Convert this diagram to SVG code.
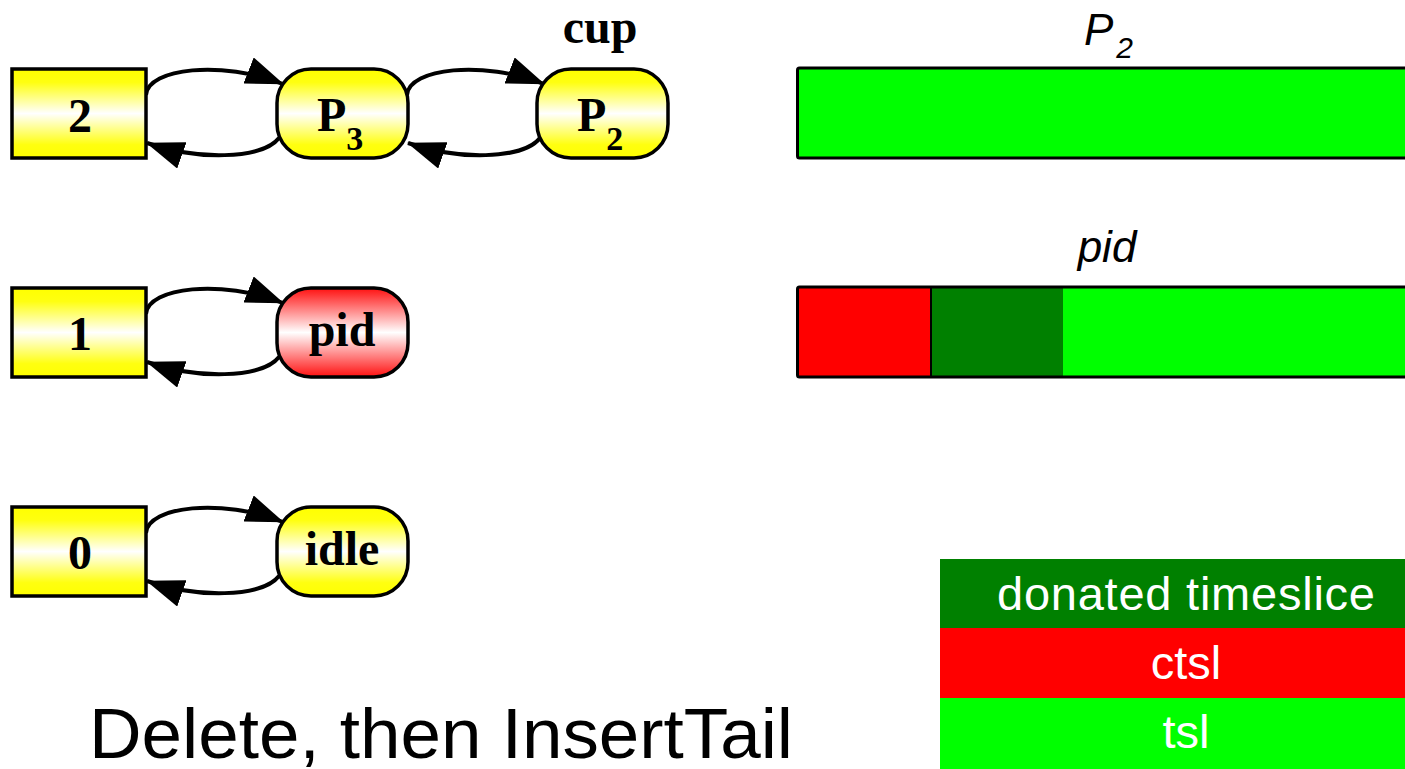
<svg xmlns="http://www.w3.org/2000/svg" width="1405" height="769" viewBox="0 0 1405 769">
  <defs>
    <linearGradient id="gYellow" x1="0" y1="0" x2="0" y2="1">
      <stop offset="0" stop-color="#FFFF00"/>
      <stop offset="0.15" stop-color="#FFFF10"/>
      <stop offset="0.5" stop-color="#FFFFFF"/>
      <stop offset="0.85" stop-color="#FFFF10"/>
      <stop offset="1" stop-color="#FFFF00"/>
    </linearGradient>
    <linearGradient id="gRed" x1="0" y1="0" x2="0" y2="1">
      <stop offset="0" stop-color="#FF1010"/>
      <stop offset="0.5" stop-color="#FFFFFF"/>
      <stop offset="1" stop-color="#FF1010"/>
    </linearGradient>
    <marker id="ah" viewBox="0 0 38 28" markerWidth="38" markerHeight="28" refX="37" refY="14" orient="auto" markerUnits="userSpaceOnUse">
      <path d="M0,0 L38,14 L0,28 Z" fill="#000"/>
    </marker>
    <style>
      .prio { fill: url(#gYellow); stroke: #000; stroke-width: 3.5; }
      .proc { fill: url(#gYellow); stroke: #000; stroke-width: 3.5; }
      .proc.red { fill: url(#gRed); }
      .lbl { font-family: "Liberation Serif", "Times New Roman", serif; font-weight: bold; font-size: 48px; fill: #000; }
      .sub { font-size: 34px; }
      .link { fill: none; stroke: #000; stroke-width: 4; marker-end: url(#ah); }
      .bar { stroke: #000; stroke-width: 3; }
      .cap { font-family: "Liberation Sans", Arial, sans-serif; font-style: italic; font-size: 44px; fill: #000; }
      .leg { font-family: "Liberation Sans", Arial, sans-serif; font-size: 47px; fill: #FFF; text-anchor: middle; }
      .title { font-family: "Liberation Sans", Arial, sans-serif; font-size: 70px; fill: #000; }
    </style>
  </defs>

  <!-- connectors between list heads and processes -->
  <g id="connectors">
    <path class="link" d="M146,95 C148,68 222,60 283,84"/>
    <path class="link" d="M279,138 C262,160 195,160 147,143"/>
    <path class="link" d="M407,95 C409,68 483,60 544,84"/>
    <path class="link" d="M540,138 C523,160 456,160 408,143"/>

    <path class="link" d="M146,314 C148,287 222,279 283,303"/>
    <path class="link" d="M279,357 C262,379 195,379 147,362"/>

    <path class="link" d="M146,533 C148,506 222,498 283,522"/>
    <path class="link" d="M279,576 C262,598 195,598 147,581"/>
  </g>

  <!-- priority 2 list -->
  <g id="prio2">
    <rect class="prio" x="12" y="69" width="134" height="89"/>
    <text class="lbl" x="80" y="132" text-anchor="middle">2</text>
  </g>
  <g id="procP3">
    <rect class="proc" x="277" y="69" width="131" height="89" rx="34"/>
    <text class="lbl" x="317" y="131">P<tspan class="sub" dy="19">3</tspan></text>
  </g>
  <g id="procP2">
    <rect class="proc" x="537" y="69" width="131" height="89" rx="34"/>
    <text class="lbl" x="577" y="131">P<tspan class="sub" dy="19">2</tspan></text>
    <text class="lbl" x="600" y="43" text-anchor="middle">cup</text>
  </g>

  <!-- priority 1 list -->
  <g id="prio1">
    <rect class="prio" x="12" y="288" width="134" height="89"/>
    <text class="lbl" x="80" y="350" text-anchor="middle">1</text>
  </g>
  <g id="procPid">
    <rect class="proc red" x="277" y="288" width="131" height="89" rx="34"/>
    <text class="lbl" x="342" y="346" text-anchor="middle">pid</text>
  </g>

  <!-- priority 0 list -->
  <g id="prio0">
    <rect class="prio" x="12" y="507" width="134" height="89"/>
    <text class="lbl" x="80" y="569" text-anchor="middle">0</text>
  </g>
  <g id="procIdle">
    <rect class="proc" x="277" y="507" width="131" height="89" rx="34"/>
    <text class="lbl" x="342" y="565" text-anchor="middle">idle</text>
  </g>

  <!-- timeslice bars -->
  <g id="barP2">
    <text class="cap" x="1084" y="45">P<tspan font-size="30px" dx="3" dy="13">2</tspan></text>
    <rect class="bar" x="797.5" y="68" width="700" height="90" rx="2" fill="#00FF00"/>
  </g>
  <g id="barPid">
    <text class="cap" x="1107" y="262" text-anchor="middle" font-size="50px">pid</text>
    <rect x="797.5" y="287" width="700" height="90" rx="2" fill="#00FF00"/>
    <rect x="797.5" y="287" width="133.5" height="90" fill="#FF0000"/>
    <rect x="931" y="287" width="132" height="90" fill="#008000"/>
    <line x1="931" y1="287" x2="931" y2="377" stroke="#000" stroke-width="2"/>
    <rect x="797.5" y="287" width="700" height="90" rx="2" fill="none" stroke="#000" stroke-width="3"/>
  </g>

  <!-- legend -->
  <g id="legend">
    <rect x="940" y="559" width="465" height="70" fill="#008000"/>
    <rect x="940" y="628" width="465" height="70" fill="#FF0000"/>
    <rect x="940" y="698" width="465" height="71" fill="#00FF00"/>
    <text class="leg" x="1186" y="610" textLength="378" lengthAdjust="spacing">donated timeslice</text>
    <text class="leg" x="1186" y="679">ctsl</text>
    <text class="leg" x="1186" y="748">tsl</text>
  </g>

  <text class="title" x="89" y="758" textLength="704" lengthAdjust="spacingAndGlyphs">Delete, then InsertTail</text>
</svg>
